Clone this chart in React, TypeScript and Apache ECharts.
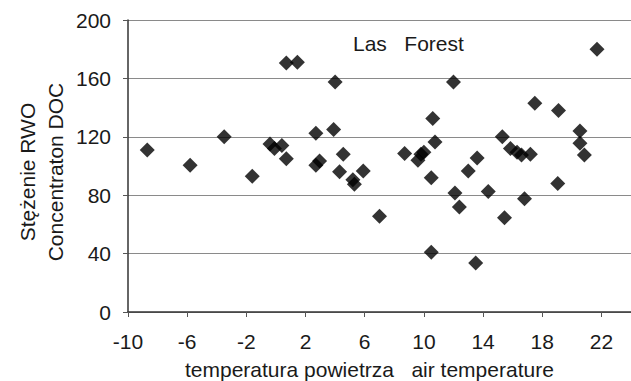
import React, { useEffect, useRef } from "react";
import * as echarts from "echarts";

const airTemp: number[] = [
  -8.7, -5.8, -3.5, -1.6, -0.4, -0.1, 0.4, 0.7, 0.7, 1.45,
  4.0, 2.7, 3.9, 4.55, 2.95, 2.7, 4.3, 5.2, 5.3, 5.9,
  7.0, 8.7, 9.8, 9.6, 10.0, 10.6, 10.75, 10.5, 12.0, 12.1,
  12.4, 13.6, 13.0, 14.35, 15.3, 15.85, 16.3, 16.6, 17.2, 15.45,
  10.5, 13.5, 17.5, 19.1, 21.7, 20.55, 20.55, 20.85, 19.05, 16.8,
];
const docConc: number[] = [
  111, 100.5, 120, 93, 115, 112, 114, 105, 170.5, 171,
  157.5, 122.5, 125, 108, 103.5, 100.5, 96, 90.5, 87.5, 96.5,
  65.5, 108.5, 108, 104, 109.5, 132.5, 116.5, 92, 157.5, 81.5,
  72, 105.5, 96.5, 82.5, 120, 112, 109.5, 107.5, 108, 64.5,
  41, 33.5, 143, 138, 180, 124, 115.5, 107.5, 88, 77.5,
];

const xTitle = "temperatura powietrza   air temperature";
const yTitle1 = "Stężenie RWO";
const yTitle2 = "Concentraton DOC";
const plotLabel = "Las   Forest";

const FONT = "Liberation Sans, Arial, Helvetica, sans-serif";

export default function App() {
  const ref = useRef<HTMLDivElement>(null);
  useEffect(() => {
    document.body.style.margin = "0";
    if (!ref.current) return;
    const chart = echarts.init(ref.current, undefined, { renderer: "svg" });
    const data = airTemp.map((x, i) => [x, docConc[i]]);
    const textStyle = (t: string, align: string, valign: string, size: number) => ({
      text: t,
      font: `${size}px ${FONT}`,
      fill: "#1a1a1a",
      align,
      verticalAlign: valign,
      textAlign: align,
      textVerticalAlign: valign,
    });
    chart.setOption({
      animation: false,
      backgroundColor: "#ffffff",
      grid: { left: 128, top: 20, width: 510, height: 292 },
      xAxis: {
        type: "value",
        min: -10,
        max: 24,
        interval: 4,
        splitLine: { show: false },
        axisLine: { show: true, onZero: false, lineStyle: { color: "#333", width: 1.5 } },
        axisTick: { show: true, inside: false, length: 5, lineStyle: { color: "#555" } },
        axisLabel: {
          margin: 19,
          color: "#1a1a1a",
          fontSize: 21,
          fontFamily: FONT,
          showMaxLabel: false,
        },
      },
      yAxis: {
        type: "value",
        min: 0,
        max: 200,
        interval: 40,
        splitLine: { show: true, lineStyle: { color: "#8a8a8a", width: 1 } },
        axisLine: { show: true, onZero: false, lineStyle: { color: "#333", width: 1.5 } },
        axisTick: { show: true, inside: false, length: 5, lineStyle: { color: "#555" } },
        axisLabel: { margin: 17, color: "#1a1a1a", fontSize: 21, fontFamily: FONT },
      },
      series: [
        {
          type: "scatter",
          data,
          symbol: "diamond",
          symbolSize: [15, 15],
          itemStyle: { color: "#000000" },
        },
      ],
      graphic: [
        {
          type: "text",
          x: 353,
          y: 43,
          style: textStyle(plotLabel, "left", "middle", 21),
        },
        {
          type: "text",
          x: 185,
          y: 369,
          style: textStyle(xTitle, "left", "middle", 21),
        },
        {
          type: "text",
          x: 27,
          y: 172,
          rotation: Math.PI / 2,
          style: textStyle(yTitle1, "center", "middle", 21),
        },
        {
          type: "text",
          x: 55,
          y: 172,
          rotation: Math.PI / 2,
          style: textStyle(yTitle2, "center", "middle", 21),
        },
      ],
    });
    return () => chart.dispose();
  }, []);
  return <div ref={ref} style={{ width: 631, height: 381, overflow: "hidden" }} />;
}
